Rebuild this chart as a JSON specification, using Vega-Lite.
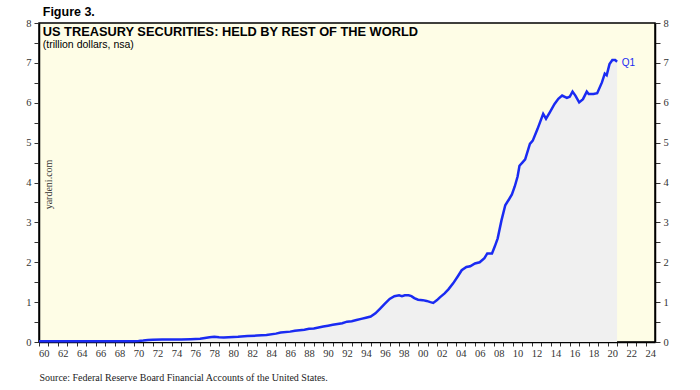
{
  "$schema": "https://vega.github.io/schema/vega-lite/v6.json",
  "width": 616,
  "height": 319,
  "autosize": {"type": "none"},
  "padding": {"left": 39, "top": 23, "right": 45, "bottom": 48},
  "background": "#ffffff",
  "title": {"text": "Figure 3.", "anchor": "start", "orient": "top", "offset": 6, "dx": 17, "dy": 6, "font": "Liberation Sans", "fontSize": 12.5, "fontWeight": "bold", "color": "#000000"},
  "config": {
    "view": {"fill": "#FEFDE6", "stroke": "#000000", "strokeWidth": 1.5},
    "axis": {"grid": false, "labelFont": "Liberation Serif", "labelFontSize": 10.5, "labelColor": "#333333", "tickColor": "#333333", "domainColor": "#000000", "domainWidth": 1.5},
    "axisX": {
      "labelExpr": "datum.value % 2 == 0 ? slice(format(datum.value, 'd'), 2) : ''",
      "labelOverlap": false,
      "labelOffset": 4.74,
      "labelPadding": 2,
      "labelFlush": false,
      "tickSize": 4,
      "titleFont": "Liberation Serif",
      "titleFontSize": 10,
      "titleFontWeight": "normal",
      "titleColor": "#222222",
      "titleAnchor": "start",
      "titleAlign": "left",
      "titleX": 0,
      "titleY": 30
    },
    "axisY": {
      "labelExpr": "datum.value % 1 == 0 ? format(datum.value, 'd') : ''",
      "labelOverlap": false,
      "tickSize": 5,
      "labelPadding": 3
    }
  },
  "datasets": {
    "holdings": [
      {"date": 1960.0, "value": 0.02}, {"date": 1962.0, "value": 0.02}, {"date": 1964.0, "value": 0.02},
      {"date": 1966.0, "value": 0.02}, {"date": 1968.0, "value": 0.02}, {"date": 1970.0, "value": 0.02},
      {"date": 1970.5, "value": 0.025}, {"date": 1971.0, "value": 0.035}, {"date": 1971.5, "value": 0.05},
      {"date": 1972.0, "value": 0.055}, {"date": 1973.0, "value": 0.06}, {"date": 1974.0, "value": 0.06},
      {"date": 1975.0, "value": 0.065}, {"date": 1976.0, "value": 0.07}, {"date": 1977.0, "value": 0.08},
      {"date": 1977.5, "value": 0.1}, {"date": 1978.0, "value": 0.12}, {"date": 1978.5, "value": 0.13},
      {"date": 1979.0, "value": 0.12}, {"date": 1979.5, "value": 0.115}, {"date": 1980.0, "value": 0.12},
      {"date": 1981.0, "value": 0.13}, {"date": 1982.0, "value": 0.15}, {"date": 1983.0, "value": 0.16},
      {"date": 1984.0, "value": 0.175}, {"date": 1985.0, "value": 0.21}, {"date": 1985.5, "value": 0.24},
      {"date": 1986.5, "value": 0.26}, {"date": 1987.0, "value": 0.28}, {"date": 1988.0, "value": 0.31},
      {"date": 1988.5, "value": 0.33}, {"date": 1989.0, "value": 0.34}, {"date": 1990.0, "value": 0.39},
      {"date": 1990.5, "value": 0.41}, {"date": 1991.0, "value": 0.43}, {"date": 1992.0, "value": 0.47},
      {"date": 1992.5, "value": 0.51}, {"date": 1993.0, "value": 0.52}, {"date": 1993.5, "value": 0.55},
      {"date": 1994.0, "value": 0.58}, {"date": 1994.5, "value": 0.61}, {"date": 1995.0, "value": 0.64},
      {"date": 1995.5, "value": 0.72}, {"date": 1996.0, "value": 0.84}, {"date": 1996.5, "value": 0.96},
      {"date": 1997.0, "value": 1.08}, {"date": 1997.5, "value": 1.15}, {"date": 1998.0, "value": 1.17},
      {"date": 1998.3, "value": 1.15}, {"date": 1998.6, "value": 1.17}, {"date": 1999.0, "value": 1.17},
      {"date": 1999.3, "value": 1.15}, {"date": 1999.6, "value": 1.1}, {"date": 2000.0, "value": 1.06},
      {"date": 2000.5, "value": 1.05}, {"date": 2000.9, "value": 1.03}, {"date": 2001.3, "value": 1.0},
      {"date": 2001.6, "value": 0.98}, {"date": 2002.0, "value": 1.05}, {"date": 2002.3, "value": 1.12},
      {"date": 2002.8, "value": 1.22}, {"date": 2003.2, "value": 1.32}, {"date": 2003.7, "value": 1.47},
      {"date": 2004.2, "value": 1.65}, {"date": 2004.6, "value": 1.8}, {"date": 2005.1, "value": 1.88},
      {"date": 2005.5, "value": 1.9}, {"date": 2006.0, "value": 1.97}, {"date": 2006.5, "value": 2.0},
      {"date": 2007.0, "value": 2.1}, {"date": 2007.3, "value": 2.22}, {"date": 2007.8, "value": 2.22},
      {"date": 2008.1, "value": 2.4}, {"date": 2008.4, "value": 2.6}, {"date": 2008.8, "value": 3.05},
      {"date": 2009.2, "value": 3.43}, {"date": 2009.6, "value": 3.58}, {"date": 2009.9, "value": 3.7},
      {"date": 2010.2, "value": 3.9}, {"date": 2010.5, "value": 4.15}, {"date": 2010.7, "value": 4.42},
      {"date": 2011.0, "value": 4.5}, {"date": 2011.3, "value": 4.58}, {"date": 2011.8, "value": 4.97},
      {"date": 2012.1, "value": 5.05}, {"date": 2012.6, "value": 5.34}, {"date": 2013.2, "value": 5.72},
      {"date": 2013.5, "value": 5.6}, {"date": 2013.9, "value": 5.76}, {"date": 2014.4, "value": 5.97},
      {"date": 2014.8, "value": 6.1}, {"date": 2015.2, "value": 6.18}, {"date": 2015.7, "value": 6.12},
      {"date": 2016.0, "value": 6.15}, {"date": 2016.3, "value": 6.28}, {"date": 2016.6, "value": 6.18},
      {"date": 2017.0, "value": 6.01}, {"date": 2017.4, "value": 6.09}, {"date": 2017.8, "value": 6.28},
      {"date": 2018.0, "value": 6.22}, {"date": 2018.5, "value": 6.22}, {"date": 2018.9, "value": 6.24},
      {"date": 2019.4, "value": 6.51}, {"date": 2019.7, "value": 6.73}, {"date": 2019.9, "value": 6.69},
      {"date": 2020.2, "value": 6.97}, {"date": 2020.5, "value": 7.07}, {"date": 2020.8, "value": 7.07},
      {"date": 2021.0, "value": 7.03}
    ]
  },
  "layer": [
    {
      "data": {"name": "holdings"},
      "mark": {"type": "area", "color": "#F0F0F0"},
      "encoding": {
        "x": {
          "field": "date", "type": "quantitative",
          "scale": {"domain": [1960, 2025], "nice": false, "zero": false},
          "axis": {"title": "Source: Federal Reserve Board Financial Accounts of the United States.", "values": [1960,1961,1962,1963,1964,1965,1966,1967,1968,1969,1970,1971,1972,1973,1974,1975,1976,1977,1978,1979,1980,1981,1982,1983,1984,1985,1986,1987,1988,1989,1990,1991,1992,1993,1994,1995,1996,1997,1998,1999,2000,2001,2002,2003,2004,2005,2006,2007,2008,2009,2010,2011,2012,2013,2014,2015,2016,2017,2018,2019,2020,2021,2022,2023,2024]}
        },
        "y": {
          "field": "value", "type": "quantitative",
          "scale": {"domain": [0, 8], "nice": false},
          "axis": {"orient": "left", "title": null, "values": [0,0.5,1,1.5,2,2.5,3,3.5,4,4.5,5,5.5,6,6.5,7,7.5,8]}
        }
      }
    },
    {
      "data": {"name": "holdings"},
      "mark": {"type": "line", "color": "#1A2BF2", "strokeWidth": 2.5},
      "encoding": {
        "x": {
          "field": "date", "type": "quantitative",
          "axis": {"title": "Source: Federal Reserve Board Financial Accounts of the United States.", "values": [1960,1961,1962,1963,1964,1965,1966,1967,1968,1969,1970,1971,1972,1973,1974,1975,1976,1977,1978,1979,1980,1981,1982,1983,1984,1985,1986,1987,1988,1989,1990,1991,1992,1993,1994,1995,1996,1997,1998,1999,2000,2001,2002,2003,2004,2005,2006,2007,2008,2009,2010,2011,2012,2013,2014,2015,2016,2017,2018,2019,2020,2021,2022,2023,2024]}
        },
        "y": {
          "field": "value", "type": "quantitative",
          "axis": {"orient": "right", "title": null, "values": [0,0.5,1,1.5,2,2.5,3,3.5,4,4.5,5,5.5,6,6.5,7,7.5,8]}
        }
      }
    },
    {
      "data": {"values": [{"t": "US TREASURY SECURITIES: HELD BY REST OF THE WORLD"}]},
      "mark": {"type": "text", "align": "left", "baseline": "middle", "font": "Liberation Sans", "fontSize": 12.8, "fontWeight": "bold", "color": "#000000"},
      "encoding": {
        "x": {"datum": 1960.4, "axis": {"title": "Source: Federal Reserve Board Financial Accounts of the United States.", "values": [1960,1961,1962,1963,1964,1965,1966,1967,1968,1969,1970,1971,1972,1973,1974,1975,1976,1977,1978,1979,1980,1981,1982,1983,1984,1985,1986,1987,1988,1989,1990,1991,1992,1993,1994,1995,1996,1997,1998,1999,2000,2001,2002,2003,2004,2005,2006,2007,2008,2009,2010,2011,2012,2013,2014,2015,2016,2017,2018,2019,2020,2021,2022,2023,2024]}},
        "y": {"datum": 7.78, "axis": null},
        "text": {"field": "t"}
      }
    },
    {
      "data": {"values": [{"t": "(trillion dollars, nsa)"}]},
      "mark": {"type": "text", "align": "left", "baseline": "middle", "font": "Liberation Sans", "fontSize": 10.5, "color": "#000000"},
      "encoding": {
        "x": {"datum": 1960.4, "axis": {"title": "Source: Federal Reserve Board Financial Accounts of the United States.", "values": [1960,1961,1962,1963,1964,1965,1966,1967,1968,1969,1970,1971,1972,1973,1974,1975,1976,1977,1978,1979,1980,1981,1982,1983,1984,1985,1986,1987,1988,1989,1990,1991,1992,1993,1994,1995,1996,1997,1998,1999,2000,2001,2002,2003,2004,2005,2006,2007,2008,2009,2010,2011,2012,2013,2014,2015,2016,2017,2018,2019,2020,2021,2022,2023,2024]}},
        "y": {"datum": 7.45, "axis": null},
        "text": {"field": "t"}
      }
    },
    {
      "data": {"values": [{"t": "yardeni.com"}]},
      "mark": {"type": "text", "align": "center", "baseline": "middle", "angle": 270, "font": "Liberation Serif", "fontSize": 10, "color": "#333333"},
      "encoding": {
        "x": {"datum": 1961.05, "axis": {"title": "Source: Federal Reserve Board Financial Accounts of the United States.", "values": [1960,1961,1962,1963,1964,1965,1966,1967,1968,1969,1970,1971,1972,1973,1974,1975,1976,1977,1978,1979,1980,1981,1982,1983,1984,1985,1986,1987,1988,1989,1990,1991,1992,1993,1994,1995,1996,1997,1998,1999,2000,2001,2002,2003,2004,2005,2006,2007,2008,2009,2010,2011,2012,2013,2014,2015,2016,2017,2018,2019,2020,2021,2022,2023,2024]}},
        "y": {"datum": 3.95, "axis": null},
        "text": {"field": "t"}
      }
    },
    {
      "data": {"values": [{"t": "Q1"}]},
      "mark": {"type": "text", "align": "left", "baseline": "middle", "font": "Liberation Sans", "fontSize": 10, "color": "#1A2BF2"},
      "encoding": {
        "x": {"datum": 2021.5, "axis": {"title": "Source: Federal Reserve Board Financial Accounts of the United States.", "values": [1960,1961,1962,1963,1964,1965,1966,1967,1968,1969,1970,1971,1972,1973,1974,1975,1976,1977,1978,1979,1980,1981,1982,1983,1984,1985,1986,1987,1988,1989,1990,1991,1992,1993,1994,1995,1996,1997,1998,1999,2000,2001,2002,2003,2004,2005,2006,2007,2008,2009,2010,2011,2012,2013,2014,2015,2016,2017,2018,2019,2020,2021,2022,2023,2024]}},
        "y": {"datum": 7.0, "axis": null},
        "text": {"field": "t"}
      }
    }
  ],
  "resolve": {"axis": {"y": "independent"}}
}
